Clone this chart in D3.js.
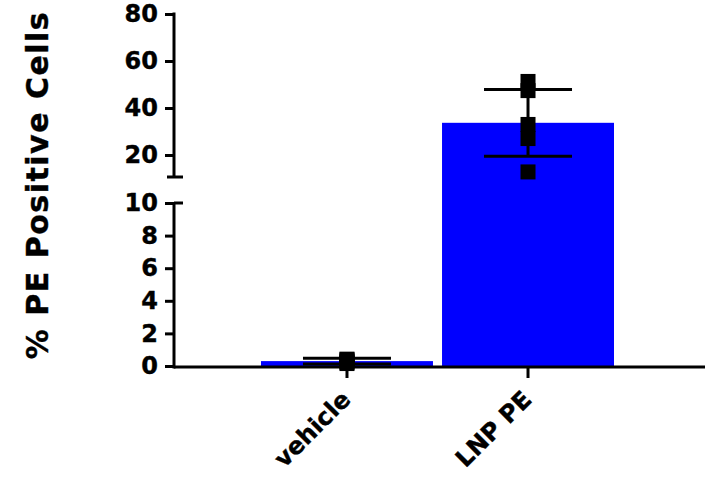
<!DOCTYPE html>
<html>
<head>
<meta charset="utf-8">
<script src="https://cdn.jsdelivr.net/npm/d3@7"></script>
<style>
  body { margin: 0; background: #fff; }
  text { font-family: "DejaVu Sans", Verdana, sans-serif; font-weight: bold; fill: #000; stroke: #000; stroke-width: 0.4px; }
</style>
</head>
<body>
<svg id="chart" width="717" height="483"></svg>
<script>
"use strict";

// data
var categories = ["vehicle", "LNP PE"];
var means = [0.3, 33.7];
var sds = [0.18, 14.2];
var vehiclePoints = [0.42, 0.38, 0.3, 0.22, 0.15];
var lnpPoints = [51.3, 47.4, 33.0, 27.0, 12.8];
var points = [vehiclePoints, lnpPoints];
var lowerTicks = [0, 2, 4, 6, 8, 10];
var upperTicks = [20, 40, 60, 80];
var yTitle = "% PE Positive Cells";

var svg = d3.select("#chart");

var axisX = 174,
    baseY = 366,
    breakLowTop = 203,
    breakUpBottom = 177,
    xEnd = 705;

// two pieces of the broken y axis
var yLow = d3.scaleLinear().domain([0, 10]).range([baseY, breakLowTop]);
var yUp = d3.scaleLinear().domain([20, 80]).range([155, 14]);
function y(v) { return v <= 10 ? yLow(v) : yUp(v); }

var x = d3.scaleBand().domain(categories).range([261, 614]).paddingInner(0.05);

// bars
svg.selectAll("rect.bar")
    .data(means)
  .enter().append("rect")
    .attr("class", "bar")
    .attr("x", function(d, i) { return x(categories[i]); })
    .attr("width", x.bandwidth())
    .attr("y", function(d) { return y(d); })
    .attr("height", function(d) { return baseY - y(d); })
    .attr("fill", "#0000ff");

// x axis
var xAxis = d3.axisBottom(x).tickSize(11).tickSizeOuter(0);
var gx = svg.append("g")
    .attr("transform", "translate(0," + (baseY + 1) + ")")
    .call(xAxis);
gx.select(".domain").remove();
gx.selectAll(".tick line").attr("stroke", "#000").attr("stroke-width", 3);
gx.selectAll(".tick text")
    .attr("font-size", "24px")
    .attr("text-anchor", "end")
    .attr("x", null).attr("y", null).attr("dy", null)
    .attr("transform", "translate(5,34) rotate(-45)");
svg.append("line")
    .attr("x1", axisX).attr("x2", xEnd)
    .attr("y1", baseY + 1).attr("y2", baseY + 1)
    .attr("stroke", "#000").attr("stroke-width", 3);

// error bars
var capHalf = 44;
var eb = svg.selectAll("g.err")
    .data(means)
  .enter().append("g")
    .attr("class", "err")
    .attr("transform", function(d, i) { return "translate(" + (x(categories[i]) + x.bandwidth() / 2) + ",0)"; });
eb.append("line")
    .attr("y1", function(d, i) { return y(d + sds[i]); })
    .attr("y2", function(d, i) { return y(d - sds[i]); })
    .attr("stroke", "#000").attr("stroke-width", 3);
eb.append("line")
    .attr("x1", -capHalf).attr("x2", capHalf)
    .attr("y1", function(d, i) { return y(d + sds[i]); })
    .attr("y2", function(d, i) { return y(d + sds[i]); })
    .attr("stroke", "#000").attr("stroke-width", 3);
eb.append("line")
    .attr("x1", -capHalf).attr("x2", capHalf)
    .attr("y1", function(d, i) { return y(d - sds[i]); })
    .attr("y2", function(d, i) { return y(d - sds[i]); })
    .attr("stroke", "#000").attr("stroke-width", 3);

// individual points
var sq = 15;
points.forEach(function(pts, i) {
  var cx = x(categories[i]) + x.bandwidth() / 2;
  svg.selectAll("rect.pt" + i)
      .data(pts)
    .enter().append("rect")
      .attr("class", "pt" + i)
      .attr("x", cx - sq / 2)
      .attr("y", function(d) { return y(d) - sq / 2; })
      .attr("width", sq)
      .attr("height", sq)
      .attr("fill", "#000");
});

// y axis pieces
function styleY(g) {
  g.select(".domain").remove();
  g.selectAll(".tick line").attr("stroke", "#000").attr("stroke-width", 3);
  g.selectAll(".tick text").attr("font-size", "24px");
}
svg.append("g")
    .attr("transform", "translate(" + axisX + ",0)")
    .call(d3.axisLeft(yLow).tickValues(lowerTicks).tickSize(9).tickPadding(7))
    .call(styleY);
svg.append("g")
    .attr("transform", "translate(" + axisX + ",0)")
    .call(d3.axisLeft(yUp).tickValues(upperTicks).tickSize(9).tickPadding(7))
    .call(styleY);

svg.append("line")
    .attr("x1", axisX).attr("x2", axisX)
    .attr("y1", yUp(80) - 1.5).attr("y2", breakUpBottom)
    .attr("stroke", "#000").attr("stroke-width", 3);
svg.append("line")
    .attr("x1", axisX).attr("x2", axisX)
    .attr("y1", breakLowTop).attr("y2", baseY + 2.5)
    .attr("stroke", "#000").attr("stroke-width", 3);
// break caps
svg.append("line")
    .attr("x1", axisX - 7).attr("x2", axisX + 9)
    .attr("y1", breakUpBottom).attr("y2", breakUpBottom)
    .attr("stroke", "#000").attr("stroke-width", 3);
svg.append("line")
    .attr("x1", axisX).attr("x2", axisX + 9)
    .attr("y1", breakLowTop).attr("y2", breakLowTop)
    .attr("stroke", "#000").attr("stroke-width", 3);

// y title
svg.append("text")
    .attr("transform", "translate(48,185) rotate(-90)")
    .attr("text-anchor", "middle")
    .attr("font-size", "30px")
    .attr("letter-spacing", "1.5px")
    .text(yTitle);
</script>
</body>
</html>
